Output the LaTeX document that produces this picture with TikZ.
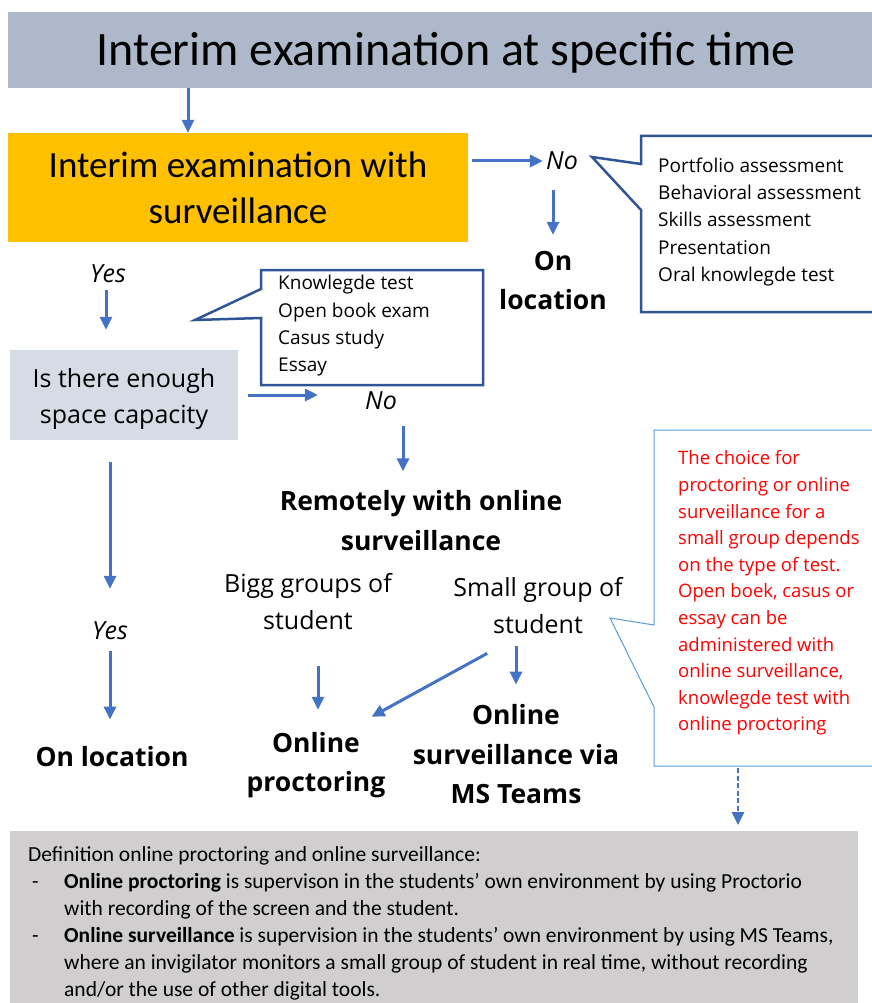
\documentclass[tikz,border=0pt]{standalone}
\usepackage{fontspec}
\setmainfont{Carlito}
\newfontfamily\segoe{Open Sans}
\usetikzlibrary{arrows.meta}

\definecolor{titlegray}{HTML}{ADB9CA}
\definecolor{examorange}{HTML}{FFC000}
\definecolor{spacegray}{HTML}{D6DCE5}
\definecolor{defgray}{HTML}{D0CECE}
\definecolor{arrowblue}{HTML}{4472C4}
\definecolor{calloutblue}{HTML}{2F5597}
\definecolor{noteblue}{HTML}{5B9BD5}

\begin{document}
\begin{tikzpicture}[x=1pt, y=-1pt, inner sep=0pt,
    flow/.style={draw=arrowblue, line width=3pt, -{Triangle[length=13pt,width=12pt]}},
    answer/.style={font=\segoe\itshape\fontsize{25}{30}\selectfont},
    plain/.style={font=\segoe\fontsize{25}{37}\selectfont, align=center},
    outcome/.style={font=\segoe\bfseries\fontsize{26.5}{39.5}\selectfont, align=center},
    listtext/.style={font=\segoe\fontsize{19}{27.4}\selectfont, align=left, anchor=west},
    callout/.style={draw=calloutblue, line width=2.5pt, line join=miter}]
    \useasboundingbox (0,0) rectangle (871,1003);

    % boxes
    \node[fill=titlegray, minimum width=872pt, minimum height=76pt] (titlebox) at (444,50) {};
    \node[font=\fontsize{48}{50}\selectfont] (title) at (446,53) {Interim examination at specific time};
    \node[fill=examorange, minimum width=460pt, minimum height=109pt,
        font=\fontsize{37}{46}\selectfont, align=center] (exam) at (238,187.5)
        {Interim examination with\\surveillance};
    \node[fill=spacegray, minimum width=228pt, minimum height=90pt] (space) at (124,395) {};
    \node[font=\segoe\fontsize{25}{36}\selectfont, align=center] (spacetext) at (124,399)
        {Is there enough\\space capacity};

    % callouts
    \draw[callout] (641,136) -- (885,136) -- (885,312) -- (641,312)
        -- (641,210) -- (592,157) -- (641,164) -- cycle;
    \node[listtext] (list1) at (658,222)
        {Portfolio assessment\\Behavioral assessment\\Skills assessment\\Presentation\\Oral knowlegde test};
    \draw[callout, fill=white] (261,270) -- (483,270) -- (483,385) -- (261,385)
        -- (261,318) -- (195,320) -- (261,289) -- cycle;
    \node[listtext, font=\segoe\fontsize{19}{27.3}\selectfont] (list2) at (278,326)
        {Knowlegde test\\Open book exam\\Casus study\\Essay};
    \draw[draw=noteblue, line width=1pt] (654,430) -- (885,430) -- (885,766) -- (654,766)
        -- (654,707) -- (610,618) -- (654,625) -- cycle;
    \coordinate (notebottom) at (738,766);
    \node[listtext, text=red, font=\segoe\fontsize{18.5}{26.6}\selectfont] (note) at (678,593)
        {The choice for\\proctoring or online\\surveillance for a\\small group depends\\on the type of test.\\Open boek, casus or\\essay can be\\administered with\\online surveillance,\\knowlegde test with\\online proctoring};

    % labels
    \node[answer] (no1) at (562,161) {No};
    \node[outcome] (onloc1) at (553,280.5) {On\\location};
    \node[answer] (yes1) at (108,274) {Yes};
    \node[answer] (no2) at (381,401) {No};
    \node[outcome] (remote) at (421,520.5) {Remotely with online\\surveillance};
    \node[plain] (bigg) at (308,602) {Bigg groups of\\student};
    \node[plain] (small) at (538,606) {Small group of\\student};
    \node[outcome] (proct) at (316,765) {Online\\proctoring};
    \node[outcome] (msteams) at (516,754.5) {Online\\surveillance via\\MS Teams};
    \node[answer] (yes2) at (110,631) {Yes};
    \node[outcome] (onloc2) at (112,757) {On location};

    % definition box
    \node[fill=defgray, minimum width=848pt, minimum height=180pt, anchor=north west]
        (defbox) at (10,831) {};
    \node[anchor=west, align=left, font=\fontsize{21.5}{27}\selectfont] (deftext) at (28,923)
        {Definition online proctoring and online surveillance:\\
        \makebox[36pt][l]{\hspace*{4pt}-}\textbf{Online proctoring} is supervison in the students’ own environment by using Proctorio\\
        \hspace*{36pt}with recording of the screen and the student.\\
        \makebox[36pt][l]{\hspace*{4pt}-}\textbf{Online surveillance} is supervision in the students’ own environment by using MS Teams,\\
        \hspace*{36pt}where an invigilator monitors a small group of student in real time, without recording\\
        \hspace*{36pt}and/or the use of other digital tools.};

    % connectors
    \draw[flow] ([xshift=-50pt]exam.north |- titlebox.south) -- ([xshift=-50pt]exam.north);
    \draw[flow, shorten <=4pt, shorten >=3pt] (exam.east |- no1.west) -- (no1.west);
    \draw[flow, shorten <=20pt, shorten >=16pt] (onloc1.north |- no1.south) -- (onloc1.north);
    \draw[flow, shorten <=7pt, shorten >=20pt] ([xshift=-2pt]yes1.south) -- ([xshift=-2pt]yes1.south |- space.north);
    \draw[flow, shorten <=10pt, shorten >=47pt] (space.east) -- (space.east -| no2.west);
    \draw[flow, shorten <=16pt, shorten >=19pt] ([xshift=22pt]no2.south) -- ([xshift=22pt]no2.south |- remote.north);
    \draw[flow, shorten <=36pt, shorten >=22pt] ([xshift=2pt]proct.north |- bigg.south) -- ([xshift=2pt]proct.north);
    \draw[flow, shorten <=12pt, shorten >=20pt] (msteams.north |- small.south) -- (msteams.north);
    \draw[flow] ([xshift=34pt,yshift=-19pt]small.south west) -- ([xshift=-14pt,yshift=15pt]proct.north east);
    \draw[flow, shorten <=22pt, shorten >=33pt] (space.south -| yes2.north) -- (yes2.north);
    \draw[flow, shorten <=11pt, shorten >=27pt] (yes2.south) -- (yes2.south |- onloc2.north);
    \draw[flow, line width=2.6pt, dash pattern=on 5pt off 2.5pt, shorten <=2pt, shorten >=6pt]
        (notebottom) -- (notebottom |- defbox.north);
\end{tikzpicture}
\end{document}
